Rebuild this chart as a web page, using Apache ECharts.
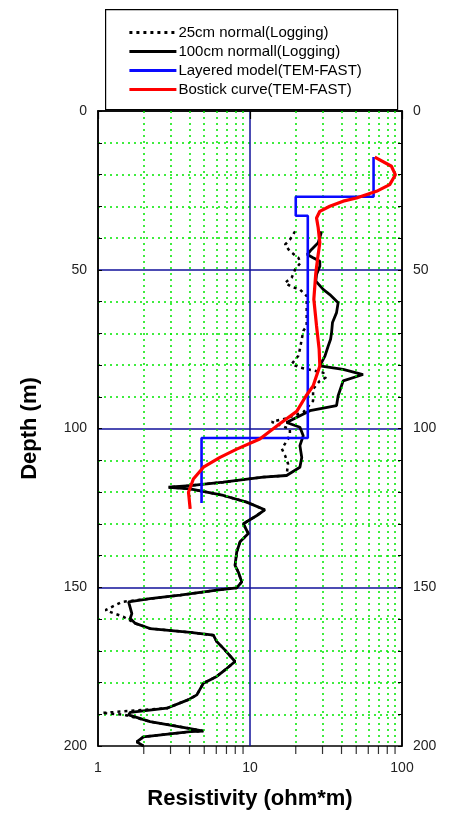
<!DOCTYPE html>
<html>
<head>
<meta charset="utf-8">
<script src="https://cdn.jsdelivr.net/npm/echarts@6/dist/echarts.min.js"></script>
<style>html,body{margin:0;padding:0;background:#fff;}#c{width:456px;height:815px;}</style>
</head>
<body>
<div id="c"></div>
<script>
// ---- data ----
const depthTicks = [0, 50, 100, 150, 200];
const xMinorGrid = [2, 3, 4, 5, 6, 7, 8, 9, 20, 30, 40, 50, 60, 70, 80, 90];

const layeredRes = [65, 65, 20, 20, 24, 24, 4.8, 4.8];
const layeredDepth = [14.5, 27, 27, 33, 33, 103, 103, 123.5];

const bostickRes = [66.2,85.2,90.5,83,67.9,50.2,41,33.5,28.8,27.4,28.1,28.8,27.8,27.1,26.3,27.4,28.5,28.8,26,23.4,20.3,15.7,11.6,8.18,6.35,4.94,4.24,3.94,4.04];
const bostickDepth = [14.5,17.4,20.1,23.2,25.3,27.4,28.4,30.0,31.6,33.7,36.8,41.5,46.8,51,59.3,67.7,75.0,80.3,86.6,89.7,94.6,98.5,103.3,106.5,109.1,112.2,115.9,120.1,125.3];

const n100Res = [29.6,28.1,25.4,23.8,26.0,28.8,28.8,27.4,27.1,30.3,33.5,38.0,37.1,34.9,34.4,33.9,32.7,31.1,28.8,41.0,55.4,41.0,39.0,38.0,37.1,24.8,17.4,21.3,22.4,21.3,21.9,21.3,17.4,12.2,6.68,4.04,2.91,4.04,6.68,9.51,12.5,11.1,9.04,9.75,8.60,8.18,7.97,8.38,8.82,8.18,6.04,3.47,2.20,1.59,1.67,1.63,1.76,2.20,4.04,5.74,6.04,6.85,7.97,7.03,6.04,4.94,4.47,3.94,2.84,1.63,1.59,2.20,4.04,4.94,4.04,1.99,1.80,1.99];
const n100Depth = [37.9,41.5,43.6,45.2,46.2,47.3,48.9,51.5,53.6,56.2,57.8,60.4,63.5,66.6,69.8,71.9,74.0,77.2,80.3,81.4,83.0,85.0,88.1,89.7,92.8,94.4,98.1,99.6,102.3,105.4,109.1,112.2,114.8,115.3,116.9,118.0,118.5,119.0,121.1,123.2,125.6,127.4,130.0,133.1,135.7,138.9,143.1,145.2,148.3,150.2,150.9,152.5,153.6,154.6,158.3,159.8,161.4,163.0,164.2,165.1,167.1,169.8,173.4,175.6,178.1,180.2,183.9,185.4,188.1,189.4,190.2,192.3,194.5,195.3,195.5,197.1,198.7,200];

const n25Res = [19.8,18.3,17.0,18.3,20.8,21.5,19.8,18.8,17.0,18.8,21.3,23.6,23.6,22.4,21.9,21.3,20.8,18.8,21.3,30.3,31.6,28.8,26.0,26.0,22.4,17.4,13.9,18.3,18.3,17.8,16.2,17.0,17.8,17.4,12.2,6.68,4.04,2.91,4.04,6.68,9.51,12.5,11.1,9.04,9.75,8.60,8.18,7.97,8.38,8.82,8.18,6.04,3.47,2.20,1.44,1.12,1.27,1.47,1.76,2.20,4.04,5.74,6.04,6.85,7.97,7.03,6.04,4.94,4.47,3.94,2.84,1.06,1.47,2.20,4.04,4.94,4.04,1.99,1.80,1.99];
const n25Depth = [37.9,40.5,42.1,44.2,46.2,47.8,49.9,52.5,54.1,55.4,56.2,58.3,67.7,69.3,71.9,75.0,77.1,79.7,80.8,82.4,83.9,85.0,87.6,91.3,94.9,96.8,97.9,100.2,101.7,103.3,106.4,108.5,111.1,114.8,115.3,116.9,118.0,118.5,119.0,121.1,123.2,125.6,127.4,130.0,133.1,135.7,138.9,143.1,145.2,148.3,150.2,150.9,152.5,153.6,154.6,157.2,158.2,159.3,161.4,163.0,164.2,165.1,167.1,169.8,173.4,175.6,178.1,180.2,183.9,185.4,188.1,189.6,190.1,192.3,194.5,195.3,195.5,197.1,198.7,200];

const seriesNames = ['25cm normal(Logging)', '100cm normall(Logging)', 'Layered model(TEM-FAST)', 'Bostick curve(TEM-FAST)'];

// ---- build ----
const zip = (xs, ys) => xs.map((x, i) => [x, ys[i]]);
const GREEN = '#00e600';
const NAVY = '#10109a';
const FONT = 'Liberation Sans, Arial, sans-serif';

const chart = echarts.init(document.getElementById('c'), null, {renderer: 'canvas'});

const yCommon = {
  type: 'value', inverse: true, min: depthTicks[0], max: depthTicks[depthTicks.length - 1], interval: 50,
  axisLine: {show: true, lineStyle: {color: '#000', width: 1.5}},
  axisTick: {show: true, inside: true, length: 4, lineStyle: {color: '#000', width: 1}},
  minorTick: {show: true, splitNumber: 5, length: 4, lineStyle: {color: '#000', width: 1}},
  axisLabel: {fontFamily: FONT, fontSize: 14, color: '#222', margin: 11}
};

chart.setOption({
  animation: false,
  backgroundColor: '#fff',
  grid: {left: 98, right: 54, top: 111, bottom: 67, show: true, borderColor: '#000', borderWidth: 1.5, backgroundColor: '#fff'},
  graphic: [{
    type: 'rect', left: 105, top: 9, z: 0,
    shape: {width: 292, height: 100},
    style: {fill: '#fff', stroke: '#000', lineWidth: 1.2}
  }],
  legend: {
    data: seriesNames, orient: 'vertical', left: 128, top: 25, padding: 0,
    itemWidth: 47, itemHeight: 14, itemGap: 4,
    itemStyle: {opacity: 0, borderWidth: 0},
    lineStyle: {width: 2.8},
    textStyle: {fontFamily: FONT, fontSize: 15, color: '#000', padding: [0, 0, 0, -3]},
    selectedMode: false, z: 5
  },
  xAxis: {
    type: 'log', logBase: 10, min: 1, max: 100,
    name: 'Resistivity (ohm*m)', nameLocation: 'middle', nameGap: 42,
    nameTextStyle: {fontFamily: FONT, fontSize: 22, fontWeight: 'bold', color: '#000'},
    axisLine: {show: true, lineStyle: {color: '#000', width: 1.5}},
    axisTick: {show: true, inside: false, length: 8, lineStyle: {color: '#000', width: 1.2}},
    axisLabel: {fontFamily: FONT, fontSize: 14, color: '#222', margin: 15},
    splitLine: {show: true, showMinLine: false, showMaxLine: false, lineStyle: {color: NAVY, width: 1.5}}
  },
  yAxis: [
    Object.assign({}, yCommon, {
      position: 'left',
      name: 'Depth (m)', nameLocation: 'middle', nameGap: 57, nameRotate: 90,
      nameTextStyle: {fontFamily: FONT, fontSize: 22, fontWeight: 'bold', color: '#000'},
      splitLine: {show: true, showMinLine: false, showMaxLine: false, lineStyle: {color: NAVY, width: 1.5}},
      minorSplitLine: {show: true, lineStyle: {color: GREEN, width: 1.5, type: [2, 4]}}
    }),
    Object.assign({}, yCommon, {
      position: 'right',
      splitLine: {show: false},
      minorSplitLine: {show: false}
    })
  ],
  series: [
    {
      name: 'minorGrid', type: 'line', data: [], silent: true, z: 1,
      markLine: {
        silent: true, symbol: 'none', label: {show: false}, animation: false,
        lineStyle: {color: GREEN, width: 1.5, type: [2, 4]},
        data: xMinorGrid.map(v => ({xAxis: v}))
      }
    },
    {
      name: 'minorTicks', type: 'scatter', silent: true, clip: false, z: 1,
      symbol: 'rect', symbolSize: [1.2, 8], symbolOffset: [0, 4],
      itemStyle: {color: '#000'},
      data: xMinorGrid.map(v => [v, depthTicks[depthTicks.length - 1]])
    },
    {
      name: seriesNames[0], type: 'line', symbol: 'none', z: 3,
      lineStyle: {color: '#000', width: 2.5, type: [3, 4]},
      itemStyle: {color: '#000'},
      data: zip(n25Res, n25Depth)
    },
    {
      name: seriesNames[1], type: 'line', symbol: 'none', z: 4,
      lineStyle: {color: '#000', width: 2.8},
      itemStyle: {color: '#000'},
      data: zip(n100Res, n100Depth)
    },
    {
      name: seriesNames[2], type: 'line', symbol: 'none', z: 5,
      lineStyle: {color: '#0a0aff', width: 2.6},
      itemStyle: {color: '#0a0aff'},
      data: zip(layeredRes, layeredDepth)
    },
    {
      name: seriesNames[3], type: 'line', symbol: 'none', z: 6,
      lineStyle: {color: '#ff0000', width: 3.2},
      itemStyle: {color: '#ff0000'},
      data: zip(bostickRes, bostickDepth)
    }
  ]
});
</script>
</body>
</html>
